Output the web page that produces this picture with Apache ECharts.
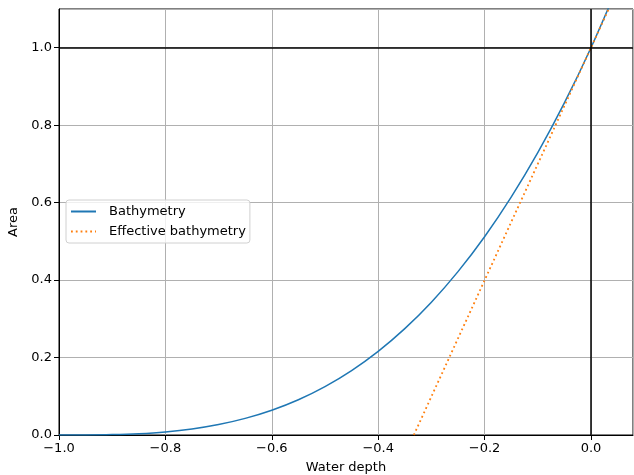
<!DOCTYPE html>
<html>
<head>
<meta charset="utf-8">
<script src="https://cdn.jsdelivr.net/npm/echarts@6/dist/echarts.min.js"></script>
<style>
  html, body { margin: 0; padding: 0; background: #fff; }
  #chart { width: 634px; height: 475px; }
</style>
</head>
<body>
<div id="chart"></div>
<script>
// values
var depth = [-1.0, -0.95, -0.9, -0.85, -0.8, -0.75, -0.7, -0.65, -0.6, -0.55, -0.5,
  -0.45, -0.4, -0.35, -0.3, -0.25, -0.2, -0.15, -0.1, -0.05, 0.0, 0.05];
var bathyArea = [0.0, 0.0001, 0.001, 0.0034, 0.008, 0.0156, 0.027, 0.0429, 0.064, 0.0911, 0.125,
  0.1664, 0.216, 0.2746, 0.343, 0.4219, 0.512, 0.6141, 0.729, 0.8574, 1.0, 1.158];
var effDepth = [-0.333, 0.0, 0.05];
var effArea = [0.0, 1.0, 1.15];
var xTicks = [-1.0, -0.8, -0.6, -0.4, -0.2, 0.0];
var yTicks = [0.0, 0.2, 0.4, 0.6, 0.8, 1.0];

function zip(xs, ys) {
  return xs.map(function (x, i) { return [x, ys[i]]; });
}
function fmt(v) {
  return v.toFixed(1).replace('-', '\u2212');
}

var font = 'DejaVu Sans';
var chart = echarts.init(document.getElementById('chart'));

chart.setOption({
  animation: false,
  textStyle: { fontFamily: font },
  grid: {
    left: 59, right: 1, top: 9, bottom: 40,
    outerBoundsMode: 'none', containLabel: false,
    show: true, borderColor: '#000', borderWidth: 1
  },
  legend: {
    orient: 'vertical',
    left: 66, top: 200,
    itemWidth: 25, itemHeight: 10, itemGap: 7,
    padding: [5, 4, 5, 4],
    borderColor: '#d0d0d0', borderWidth: 1, borderRadius: 3,
    backgroundColor: 'rgba(255,255,255,0.8)',
    itemStyle: { opacity: 0 },
    textStyle: { fontFamily: font, fontSize: 13, color: '#000', padding: [0, 0, 0, 8] },
    data: ['Bathymetry', 'Effective bathymetry']
  },
  xAxis: {
    type: 'value', min: -1.0, max: 0.079, interval: 0.2,
    name: 'Water depth', nameLocation: 'middle', nameGap: 26,
    nameTextStyle: { fontFamily: font, fontSize: 13, color: '#000' },
    axisLine: { show: true, onZero: false, lineStyle: { color: '#000', width: 1 } },
    axisTick: { show: true, length: 5, lineStyle: { color: '#000' } },
    axisLabel: {
      fontSize: 13, color: '#000', margin: 7, showMaxLabel: false,
      formatter: function (v) { return xTicks.indexOf(+v.toFixed(1)) >= 0 ? fmt(v) : ''; }
    },
    splitLine: { show: true, lineStyle: { color: '#b0b0b0', width: 1 } }
  },
  yAxis: {
    type: 'value', min: 0, max: 1.1, interval: 0.2,
    name: 'Area', nameLocation: 'middle', nameGap: 36, nameRotate: 90,
    nameTextStyle: { fontFamily: font, fontSize: 13, color: '#000' },
    axisLine: { show: true, onZero: false, lineStyle: { color: '#000', width: 1 } },
    axisTick: { show: true, length: 5, lineStyle: { color: '#000' } },
    axisLabel: {
      fontSize: 13, color: '#000', margin: 7, showMaxLabel: false,
      formatter: function (v) { return yTicks.indexOf(+v.toFixed(1)) >= 0 ? fmt(v) : ''; }
    },
    splitLine: { show: true, lineStyle: { color: '#b0b0b0', width: 1 } }
  },
  series: [
    {
      name: 'Bathymetry',
      type: 'line',
      data: zip(depth, bathyArea),
      smooth: 0.3,
      symbol: 'none',
      clip: true,
      color: '#1f77b4',
      lineStyle: { color: '#1f77b4', width: 1.5 },
      markLine: {
        silent: true,
        symbol: 'none',
        label: { show: false },
        lineStyle: { color: '#000', width: 1.5, type: 'solid' },
        data: [{ yAxis: 1.0 }, { xAxis: 0.0 }]
      },
      z: 3
    },
    {
      name: 'Effective bathymetry',
      type: 'line',
      data: zip(effDepth, effArea),
      symbol: 'none',
      clip: true,
      color: '#ff7f0e',
      lineStyle: { color: '#ff7f0e', width: 1.8, type: [1.8, 3] },
      z: 4
    }
  ]
});
</script>
</body>
</html>
